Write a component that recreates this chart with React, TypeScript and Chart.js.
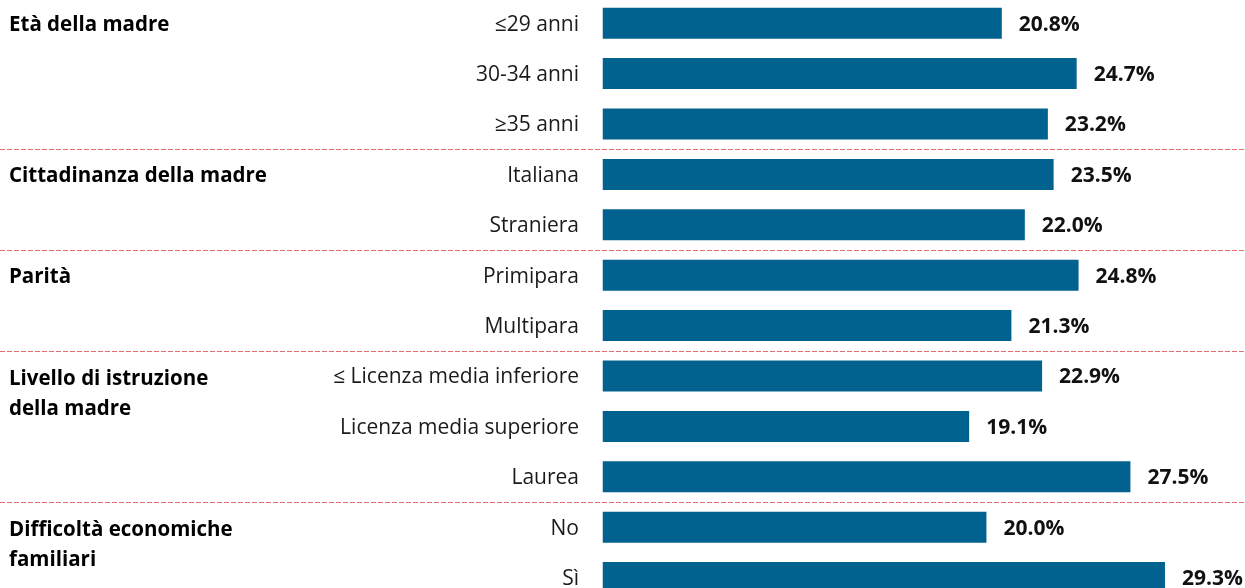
import React, { useEffect, useRef } from "react";
import { Chart, registerables } from "chart.js";

Chart.register(...registerables);

const categories = [
  "≤29 anni",
  "30-34 anni",
  "≥35 anni",
  "Italiana",
  "Straniera",
  "Primipara",
  "Multipara",
  "≤ Licenza media inferiore",
  "Licenza media superiore",
  "Laurea",
  "No",
  "Sì",
];

const values = [20.8, 24.7, 23.2, 23.5, 22.0, 24.8, 21.3, 22.9, 19.1, 27.5, 20.0, 29.3];

const groupNames = [
  ["Età della madre"],
  ["Cittadinanza della madre"],
  ["Parità"],
  ["Livello di istruzione", "della madre"],
  ["Difficoltà economiche", "familiari"],
];
const groupStarts = [0, 3, 5, 7, 10];

const FONT = "'Open Sans', sans-serif";

const overlayPlugin = {
  id: "overlay",
  afterDatasetsDraw(chart: any) {
    const ctx = chart.ctx;
    const y = chart.scales.y;
    const meta = chart.getDatasetMeta(0);
    ctx.save();
    // value labels
    ctx.font = `bold 21px ${FONT}`;
    ctx.fillStyle = "#111111";
    ctx.textAlign = "left";
    ctx.textBaseline = "middle";
    meta.data.forEach((bar: any, i: number) => {
      ctx.fillText(values[i].toFixed(1) + "%", bar.x + 17, bar.y + 1.5);
    });
    // separators
    ctx.strokeStyle = "#E36F6F";
    ctx.lineWidth = 1;
    ctx.setLineDash([5, 2]);
    groupStarts.slice(1).forEach((s) => {
      const py = Math.round((y.getPixelForValue(s - 1) + y.getPixelForValue(s)) / 2) + 0.5;
      ctx.beginPath();
      ctx.moveTo(0, py);
      ctx.lineTo(chart.width, py);
      ctx.stroke();
    });
    ctx.setLineDash([]);
    // group labels
    ctx.font = `bold 20.5px ${FONT}`;
    ctx.fillStyle = "#000000";
    groupNames.forEach((lines, g) => {
      const py = y.getPixelForValue(groupStarts[g]);
      const off = lines.length > 1 ? 3 : 1.5;
      lines.forEach((t, k) => {
        ctx.fillText(t, 9, py + off + k * 30);
      });
    });
    ctx.restore();
  },
};

export default function App() {
  const ref = useRef<HTMLCanvasElement>(null);
  useEffect(() => {
    if (!ref.current) return;
    const chart = new Chart(ref.current, {
      type: "bar",
      data: {
        labels: categories,
        datasets: [
          {
            data: values,
            backgroundColor: "#02628F",
            borderWidth: 0,
            barPercentage: 0.615,
            categoryPercentage: 1,
          },
        ],
      },
      options: {
        indexAxis: "y",
        animation: false,
        responsive: true,
        maintainAspectRatio: false,
        layout: { padding: { left: 0, right: 9, top: 0, bottom: 0 } },
        plugins: { legend: { display: false }, tooltip: { enabled: false } },
        scales: {
          x: { display: false, min: 0, max: 33 },
          y: {
            grid: { display: false, drawTicks: false },
            border: { display: false },
            ticks: {
              padding: 23.5,
              labelOffset: 1.5,
              color: "#1a1a1a",
              font: { family: FONT, size: 21 },
            },
            afterFit(scale: any) {
              scale.width = 602.5;
              scale.paddingTop = 0;
              scale.paddingBottom = 0;
            },
          },
        },
      },
      plugins: [overlayPlugin],
    });
    return () => chart.destroy();
  }, []);
  return (
    <div style={{ position: "absolute", left: 0, top: -2.4, width: 1245, height: 604.8 }}>
      <canvas ref={ref} />
    </div>
  );
}
